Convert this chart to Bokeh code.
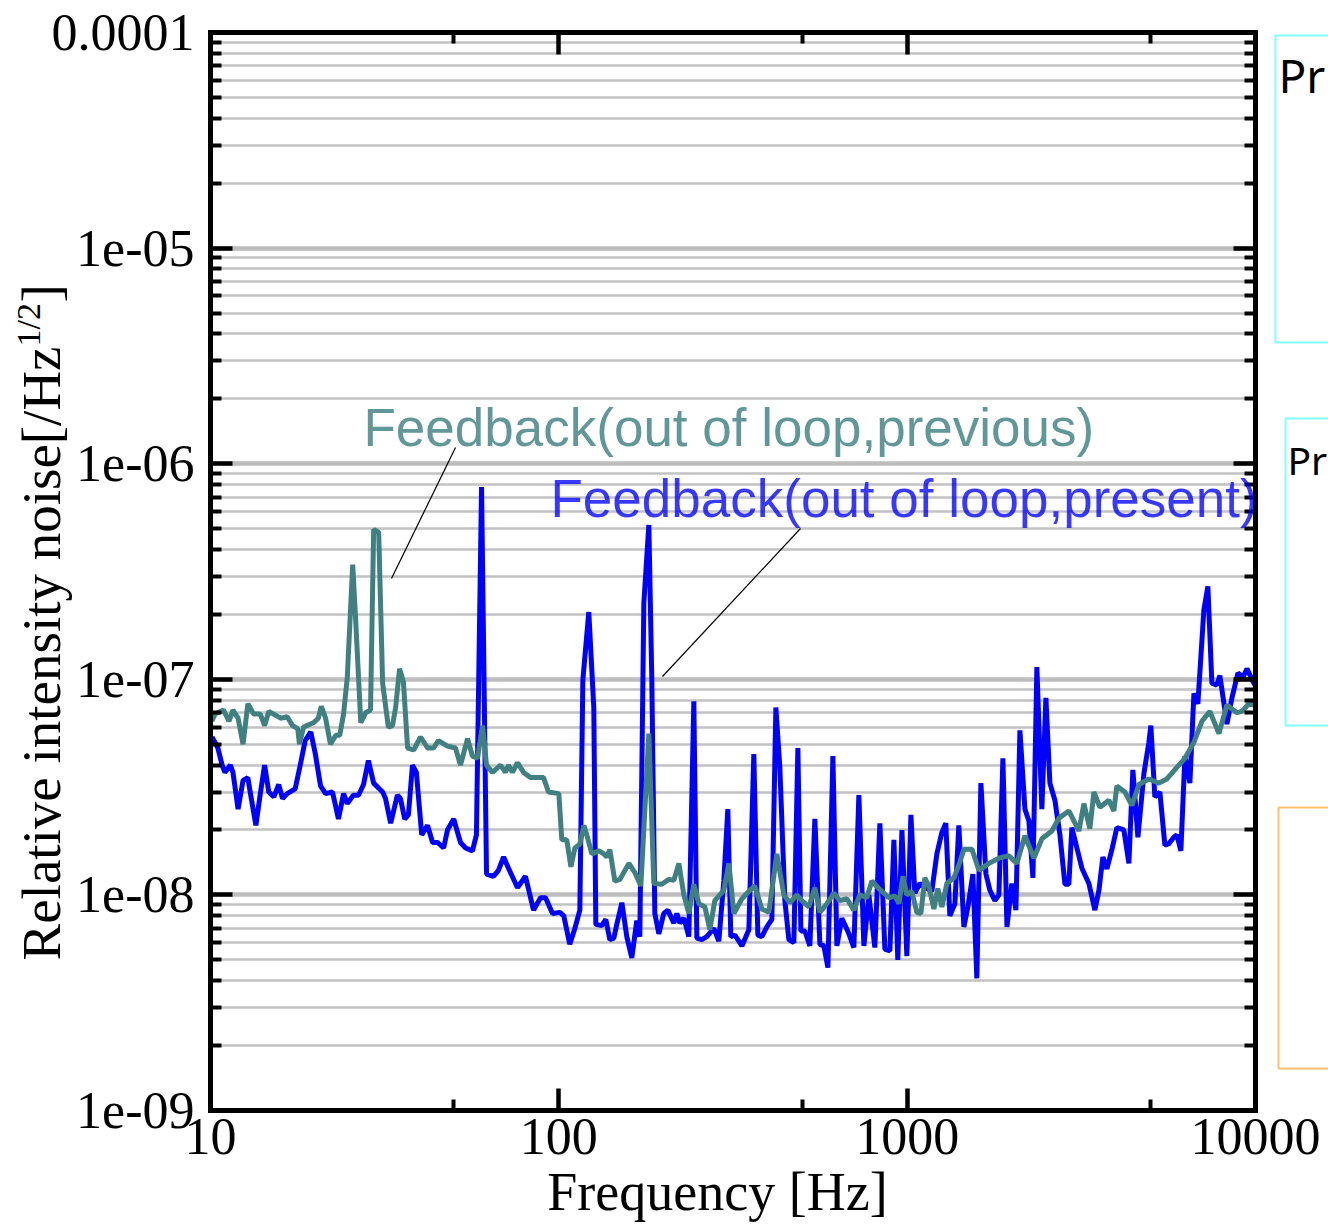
import math
from bokeh.plotting import figure
from bokeh.models import (Range1d, LogAxis, FixedTicker, CustomJSTickFormatter,
                          Label, BoxAnnotation)
from bokeh.embed import file_html
from bokeh.resources import INLINE

# ---------------- data ----------------
prev_freq = [10.1, 10.3, 10.9, 11.3, 11.6, 12.0, 12.4, 12.8, 13.3, 13.9, 14.3, 14.7, 15.4, 15.9,
             16.6, 17.2, 17.8, 18.0, 18.5, 19.8, 20.4, 20.8, 21.4, 22.1, 22.9, 23.5, 24.1, 24.7,
             25.6, 26.1, 27.0, 27.9, 28.8, 29.4, 30.4, 31.2, 32.4, 33.3, 34.0, 34.9, 35.8, 36.8,
             38.3, 40.1, 42.0, 43.7, 45.1, 47.9, 50.5, 52.2, 54.7, 56.5, 58.4, 60.4, 62.0, 64.5,
             68.0, 70.3, 71.7, 73.6, 76.1, 79.2, 82.9, 90.4, 93.4, 100, 102, 105.4, 108.3, 111.2,
             114.9, 118.0, 120.3, 124.4, 130.3, 134.6, 137.3, 140.1, 144.8, 149.7, 158.9, 165.3,
             172.0, 181.3, 187.4, 197.6, 206.9, 213.9, 221.1, 228.5, 236.2, 244.1, 252.4, 262.6,
             271.4, 280.4, 297.6, 307.7, 318.1, 335.4, 353.5, 365.4, 382.7, 400.7, 422.5, 442.6,
             460.5, 482.3, 498.5, 522.1, 543.3, 561.6, 588.2, 615.9, 640.8, 671.2, 703.0, 731.4,
             766.0, 791.8, 829.3, 886.1, 922, 947, 972, 998, 1031, 1066, 1095, 1124, 1154, 1193,
             1225, 1258, 1300, 1362, 1417, 1455, 1534, 1607, 1717, 1834, 1959, 2065, 2178, 2311,
             2436, 2603, 2726, 2912, 3112, 3216, 3346, 3436, 3575, 3794, 3921, 3999, 4217, 4417,
             4627, 4942, 5280, 5568, 5947, 6271, 6656, 7020, 7399, 7853, 8279, 8843, 9141, 9573,
             9961]
prev_rin = [6.4e-8, 6.9e-8, 7.2e-8, 6.4e-8, 7.2e-8, 6.6e-8, 5.0e-8, 7.7e-8, 6.9e-8, 6.9e-8, 6.1e-8,
            7.1e-8, 6.8e-8, 6.6e-8, 6.7e-8, 6.1e-8, 5.9e-8, 5.0e-8, 6.0e-8, 6.3e-8, 6.6e-8, 7.5e-8,
            6.6e-8, 5.0e-8, 5.5e-8, 5.5e-8, 6.9e-8, 1.02e-7, 3.4e-7, 1.9e-7, 6.3e-8, 7.0e-8, 7.2e-8,
            4.95e-7, 4.8e-7, 9.6e-8, 6.0e-8, 6.1e-8, 7.4e-8, 1.12e-7, 9.7e-8, 4.8e-8, 4.7e-8, 5.4e-8,
            4.8e-8, 4.8e-8, 5.2e-8, 4.9e-8, 4.8e-8, 4.0e-8, 5.3e-8, 4.4e-8, 4.3e-8, 6.1e-8, 4.0e-8,
            3.7e-8, 4.0e-8, 3.7e-8, 4.0e-8, 3.7e-8, 4.1e-8, 3.7e-8, 3.5e-8, 3.5e-8, 3.0e-8, 2.95e-8,
            1.8e-8, 1.8e-8, 1.35e-8, 1.65e-8, 1.72e-8, 2.1e-8, 1.9e-8, 1.55e-8, 1.6e-8, 1.55e-8,
            1.5e-8, 1.62e-8, 1.16e-8, 1.18e-8, 1.4e-8, 1.27e-8, 1.1e-8, 5.6e-8, 1.13e-8, 1.12e-8,
            1.18e-8, 1.17e-8, 1.4e-8, 1.0e-8, 8.2e-9, 1.12e-8, 9.1e-9, 8.8e-9, 6.9e-9, 9.4e-9,
            1.05e-8, 1.4e-8, 8.2e-9, 9.6e-9, 1.05e-8, 1.1e-8, 8.6e-9, 8.3e-9, 1.55e-8, 1.0e-8,
            9.2e-9, 1.0e-8, 9.4e-9, 8.8e-9, 1.08e-8, 8.3e-9, 9.1e-9, 1.02e-8, 9.4e-9, 9.6e-9,
            8.5e-9, 1.0e-8, 9.7e-9, 1.16e-8, 1.07e-8, 9.7e-9, 9.9e-9, 9.1e-9, 1.22e-8, 1.0e-8,
            1.04e-8, 8.3e-9, 8.2e-9, 1.2e-8, 1.1e-8, 8.6e-9, 1.07e-8, 8.8e-9, 1.13e-8, 1.2e-8,
            1.42e-8, 1.63e-8, 1.63e-8, 1.3e-8, 1.4e-8, 1.48e-8, 1.52e-8, 1.4e-8, 1.88e-8, 1.48e-8,
            1.82e-8, 1.98e-8, 2.27e-8, 2.45e-8, 1.98e-8, 2.65e-8, 2.03e-8, 3.0e-8, 2.55e-8, 2.75e-8,
            2.45e-8, 3.2e-8, 3.0e-8, 2.6e-8, 3.25e-8, 3.45e-8, 3.3e-8, 3.45e-8, 3.9e-8, 4.3e-8,
            5.1e-8, 6.4e-8, 7.1e-8, 5.6e-8, 7.6e-8, 7.0e-8, 7.1e-8, 7.7e-8, 7.6e-8]

pres_freq = [10.1, 10.5, 10.8, 11.0, 11.4, 11.6, 12.0, 12.4, 12.8, 13.0, 13.5, 13.9, 14.3, 14.7,
             15.2, 15.7, 16.1, 16.6, 17.5, 18.1, 18.7, 19.4, 20.0, 20.7, 21.4, 22.4, 23.3, 24.1,
             24.7, 25.7, 26.6, 27.5, 28.4, 29.4, 31.2, 31.8, 32.9, 34.4, 35.1, 36.1, 37.0, 38.0,
             39.0, 40.4, 42.0, 43.4, 44.9, 46.7, 47.9, 49.9, 52.2, 54.0, 56.5, 58.0, 60.0, 62.0,
             64.9, 67.1, 69.4, 71.7, 76.1, 80.2, 84.6, 88.6, 91.6, 95.9, 100.7, 103.3, 107.5,
             111.2, 114.9, 117.2, 121.9, 126.0, 127.7, 132.8, 136.4, 140.1, 143.8, 146.7, 151.7,
             156.7, 162.0, 167.4, 170.8, 175.4, 181.3, 184.9, 188.6, 193.7, 200.1, 205.6, 213.9,
             218.2, 222.5, 228.5, 236.2, 244.1, 249.0, 257.3, 266.0, 278.6, 287.9, 297.6, 305.6,
             311.7, 320.2, 335.4, 351.2, 362.9, 372.7, 382.7, 395.5, 408.8, 419.8, 431.0, 445.6,
             457.5, 472.9, 485.6, 495.3, 508.6, 525.6, 543.3, 561.6, 576.7, 592.2, 612.0, 628.4,
             649.5, 680.3, 703.0, 726.7, 751.2, 776.2, 807.6, 834.9, 862.9, 892.0, 916, 940, 966,
             998, 1025, 1052, 1088, 1139, 1177, 1217, 1258, 1291, 1326, 1371, 1407, 1455, 1494,
             1544, 1585, 1628, 1683, 1728, 1786, 1834, 1883, 1934, 1998, 2052, 2107, 2178, 2236,
             2296, 2357, 2436, 2502, 2569, 2655, 2745, 2837, 2912, 2971, 3071, 3174, 3324, 3459,
             3552, 3646, 3744, 3870, 3999, 4189, 4330, 4446, 4596, 4782, 4942, 5007, 5141, 5314,
             5494, 5641, 5830, 5947, 6106, 6271, 6481, 6656, 6832, 7109, 7299, 7495, 7747, 7902,
             8279, 8558, 8904, 9203, 9449, 9766, 9961]
pres_rin = [5.4e-8, 4.8e-8, 4.0e-8, 3.7e-8, 4.0e-8, 3.7e-8, 2.5e-8, 3.4e-8, 3.5e-8, 3.0e-8, 2.1e-8,
            2.95e-8, 4.0e-8, 3.0e-8, 2.85e-8, 3.25e-8, 2.8e-8, 2.95e-8, 3.1e-8, 4.0e-8, 5.2e-8,
            5.7e-8, 4.5e-8, 3.2e-8, 2.95e-8, 3.0e-8, 2.25e-8, 2.95e-8, 2.65e-8, 2.9e-8, 2.9e-8,
            3.25e-8, 4.2e-8, 3.3e-8, 3.0e-8, 2.8e-8, 2.15e-8, 2.9e-8, 2.8e-8, 2.25e-8, 2.35e-8,
            4.0e-8, 3.7e-8, 1.9e-8, 2.1e-8, 1.75e-8, 1.75e-8, 1.65e-8, 2.0e-8, 2.25e-8, 1.75e-8,
            1.65e-8, 1.6e-8, 1.9e-8, 7.8e-7, 1.25e-8, 1.22e-8, 1.3e-8, 1.5e-8, 1.33e-8, 1.08e-8,
            1.22e-8, 8.5e-9, 9.7e-9, 9.7e-9, 8.2e-9, 8.3e-9, 8.0e-9, 5.9e-9, 7.0e-9, 8.5e-9,
            9.9e-8, 2.05e-7, 7.4e-8, 7.3e-9, 7.2e-9, 7.7e-9, 6.2e-9, 6.3e-9, 7.3e-9, 9.2e-9,
            6.4e-9, 5.1e-9, 7.6e-9, 6.4e-9, 2.25e-7, 5.2e-7, 1.0e-7, 8.2e-9, 6.6e-9, 8.2e-9,
            8.5e-9, 7.4e-9, 8.2e-9, 7.4e-9, 7.8e-9, 6.4e-9, 7.9e-8, 6.3e-9, 6.2e-9, 6.4e-9,
            7.0e-9, 6.1e-9, 1.16e-8, 2.5e-8, 6.4e-9, 6.5e-9, 5.8e-9, 6.9e-9, 4.5e-8, 6.5e-9,
            6.4e-9, 7.1e-9, 7.7e-9, 7.4e-8, 3.9e-8, 9.4e-9, 6.2e-9, 6.0e-9, 4.8e-8, 6.8e-9,
            6.8e-9, 5.8e-9, 2.25e-8, 5.9e-9, 5.8e-9, 4.6e-9, 4.4e-8, 5.8e-9, 7.8e-9, 6.6e-9,
            5.7e-9, 2.9e-8, 5.8e-9, 1.0e-8, 5.7e-9, 2.15e-8, 5.6e-9, 5.5e-9, 1.8e-8, 5.0e-9,
            2.0e-8, 5.2e-9, 2.35e-8, 1.02e-8, 1.13e-8, 1.07e-8, 1.04e-8, 1.55e-8, 1.95e-8,
            2.15e-8, 8.0e-9, 9.1e-9, 2.1e-8, 7.1e-9, 8.8e-9, 1.25e-8, 4.1e-9, 3.3e-8, 1.25e-8,
            1.05e-8, 9.4e-9, 1.0e-8, 4.3e-8, 7.1e-9, 1.13e-8, 8.5e-9, 5.8e-8, 2.5e-8, 2.2e-8,
            1.2e-8, 1.14e-7, 2.5e-8, 8.2e-8, 3.3e-8, 2.75e-8, 1.9e-8, 1.12e-8, 1.12e-8, 2.05e-8,
            1.65e-8, 1.33e-8, 1.13e-8, 8.5e-9, 1.05e-8, 1.5e-8, 1.32e-8, 1.62e-8, 2.05e-8, 2.0e-8,
            1.4e-8, 3.8e-8, 1.85e-8, 3.65e-8, 5.1e-8, 6.1e-8, 2.85e-8, 3.0e-8, 1.7e-8, 1.73e-8,
            1.85e-8, 1.9e-8, 1.6e-8, 4.4e-8, 3.3e-8, 8.6e-8, 7.7e-8, 2.1e-7, 2.7e-7, 9.6e-8,
            9.4e-8, 1.04e-7, 6.2e-8, 8.2e-8, 1.07e-7, 1.02e-7, 1.12e-7, 1.0e-7, 9.4e-8]

x_tick_values = [10, 100, 1000, 10000]
x_tick_labels = ["10", "100", "1000", "10000"]
x_minor_values = [50, 500, 5000]
y_tick_values = [1e-9, 1e-8, 1e-7, 1e-6, 1e-5, 1e-4]
y_tick_labels = ["1e-09", "1e-08", "1e-07", "1e-06", "1e-05", "0.0001"]
y_minor_values = [m * 10.0 ** e for e in range(-9, -4) for m in range(2, 10)]

x_title = "Frequency [Hz]"
y_title = "Relative intensity noise[/Hz"
y_title_sup = "1/2"
y_title_end = "]"
label_prev = "Feedback(out of loop,previous)"
label_pres = "Feedback(out of loop,present)"
legend_text = "Pr"

# ---------------- layout geometry (pixels) ----------------
W, H = 1328, 1226
PX_LEFT, PX_RIGHT, PX_TOP, PX_BOTTOM = 210, 1255, 32, 1110
X_MIN, X_MAX, Y_MIN, Y_MAX = 10.0, 10000.0, 1e-9, 1e-4
DEC_X = (PX_RIGHT - PX_LEFT) / math.log10(X_MAX / X_MIN)
DEC_Y = (PX_BOTTOM - PX_TOP) / math.log10(Y_MAX / Y_MIN)

def fx(px):
    return X_MIN * 10 ** ((px - PX_LEFT) / DEC_X)

def fy(py):
    return Y_MAX * 10 ** (-(py - PX_TOP) / DEC_Y)

# the label anchor sits ~0.34 em below the glyph baseline
def shift(size):
    return 0.34 * size

# ---------------- figure ----------------
p = figure(width=W, height=H, x_axis_type="log", y_axis_type="log",
           x_range=Range1d(fx(0), fx(W)), y_range=Range1d(fy(H), fy(0)),
           output_backend="svg", toolbar_location=None, min_border=0)
p.background_fill_color = "white"
p.border_fill_color = "white"
p.outline_line_color = None

fmt_code = """
let best = 0, bd = Infinity;
for (let i = 0; i < vals.length; i++) {
  const d = Math.abs(Math.log10(tick) - Math.log10(vals[i]));
  if (d < bd) { bd = d; best = i; }
}
return labs[best];
"""

def style(ax, ticks, minors, labels, show, loc, bounds):
    ax.fixed_location = loc
    ax.bounds = bounds
    ax.ticker = FixedTicker(ticks=ticks, minor_ticks=minors)
    if show:
        ax.formatter = CustomJSTickFormatter(args=dict(vals=ticks, labs=labels), code=fmt_code)
    else:
        ax.formatter = CustomJSTickFormatter(code="return ''")
    ax.axis_line_width = 5
    ax.axis_line_color = "black"
    ax.axis_line_cap = "square"
    ax.major_tick_in = 22
    ax.major_tick_out = 0
    ax.minor_tick_in = 11
    ax.minor_tick_out = 0
    ax.major_tick_line_width = 4.5
    ax.minor_tick_line_width = 4
    ax.major_tick_line_color = "black"
    ax.minor_tick_line_color = "black"
    ax.major_label_text_font = "Liberation Serif"
    ax.major_label_text_font_size = "52px"
    ax.major_label_text_color = "black"

style(p.xaxis[0], x_tick_values, x_minor_values, x_tick_labels, True, Y_MIN, (X_MIN, X_MAX))
style(p.yaxis[0], y_tick_values, y_minor_values, y_tick_labels, True, X_MIN, (Y_MIN, Y_MAX))
p.xaxis[0].major_label_standoff = 8
p.yaxis[0].major_label_standoff = 16

top_ax = LogAxis()
style(top_ax, x_tick_values, x_minor_values, x_tick_labels, False, Y_MAX, (X_MIN, X_MAX))
p.add_layout(top_ax, "above")
right_ax = LogAxis()
style(right_ax, y_tick_values, y_minor_values, y_tick_labels, False, X_MAX, (Y_MIN, Y_MAX))
p.add_layout(right_ax, "right")

p.xgrid.visible = False
g = p.ygrid[0]
g.ticker = FixedTicker(ticks=y_tick_values, minor_ticks=y_minor_values)
g.bounds = (Y_MIN, Y_MAX)
g.cross_bounds = (X_MIN, X_MAX)
g.grid_line_color = "#bdbdbd"
g.grid_line_width = 4.5
g.minor_grid_line_color = "#c2c2c2"
g.minor_grid_line_width = 2.6

# ---------------- series ----------------
p.line(pres_freq, pres_rin, line_color="#0000ff", line_width=5)
p.line(prev_freq, prev_rin, line_color="#408080", line_width=5)

# ---------------- annotations ----------------
p.add_layout(Label(x=fx(363), y=fy(445 - shift(53)), text=label_prev, text_font="Liberation Sans",
                   text_font_size="53px", text_color="#408080", text_alpha=0.82,
                   text_align="left", text_baseline="alphabetic"))
p.add_layout(Label(x=fx(550), y=fy(516 - shift(53)), text=label_pres, text_font="Liberation Sans",
                   text_font_size="53px", text_color="#0000ff", text_alpha=0.78,
                   text_align="left", text_baseline="alphabetic"))
p.segment(x0=[fx(455), fx(800)], y0=[fy(447), fy(528)], x1=[fx(391), fx(662)], y1=[fy(578), fy(676)],
          line_color="black", line_width=1.2)

# axis titles
p.add_layout(Label(x=fx(717), y=fy(1210 - shift(54)), text=x_title, text_font="Liberation Serif",
                   text_font_size="54px", text_color="black",
                   text_align="center", text_baseline="alphabetic"))
p.add_layout(Label(x=fx(60 - shift(55)), y=fy(960), text=y_title, text_font="Liberation Serif",
                   text_font_size="55px", text_color="black", angle=math.pi / 2,
                   text_align="left", text_baseline="alphabetic"))
p.add_layout(Label(x=fx(40 - shift(34)), y=fy(346), text=y_title_sup, text_font="Liberation Serif",
                   text_font_size="34px", text_color="black", angle=math.pi / 2,
                   text_align="left", text_baseline="alphabetic"))
p.add_layout(Label(x=fx(60 - shift(55)), y=fy(302), text=y_title_end, text_font="Liberation Serif",
                   text_font_size="55px", text_color="black", angle=math.pi / 2,
                   text_align="left", text_baseline="alphabetic"))

# partially visible legend boxes at the right edge
for (l, t, b, c) in [(1275, 35, 342, "#80ffff"), (1285, 418, 725, "#80ffff"), (1278, 807, 1068, "#ffc070")]:
    p.add_layout(BoxAnnotation(left=fx(l), right=fx(W + 60), top=fy(t), bottom=fy(b),
                               fill_alpha=0, line_color=c, line_alpha=1, line_width=2))
p.add_layout(Label(x=fx(1278), y=fy(90 - shift(46)), text=legend_text, text_font="Noto Sans",
                   text_font_size="46px", text_color="black",
                   text_align="left", text_baseline="alphabetic"))
p.add_layout(Label(x=fx(1287), y=fy(472 - shift(39)), text=legend_text, text_font="Noto Sans",
                   text_font_size="39px", text_color="black",
                   text_align="left", text_baseline="alphabetic"))

open("out.html", "w").write(file_html(p, INLINE))
